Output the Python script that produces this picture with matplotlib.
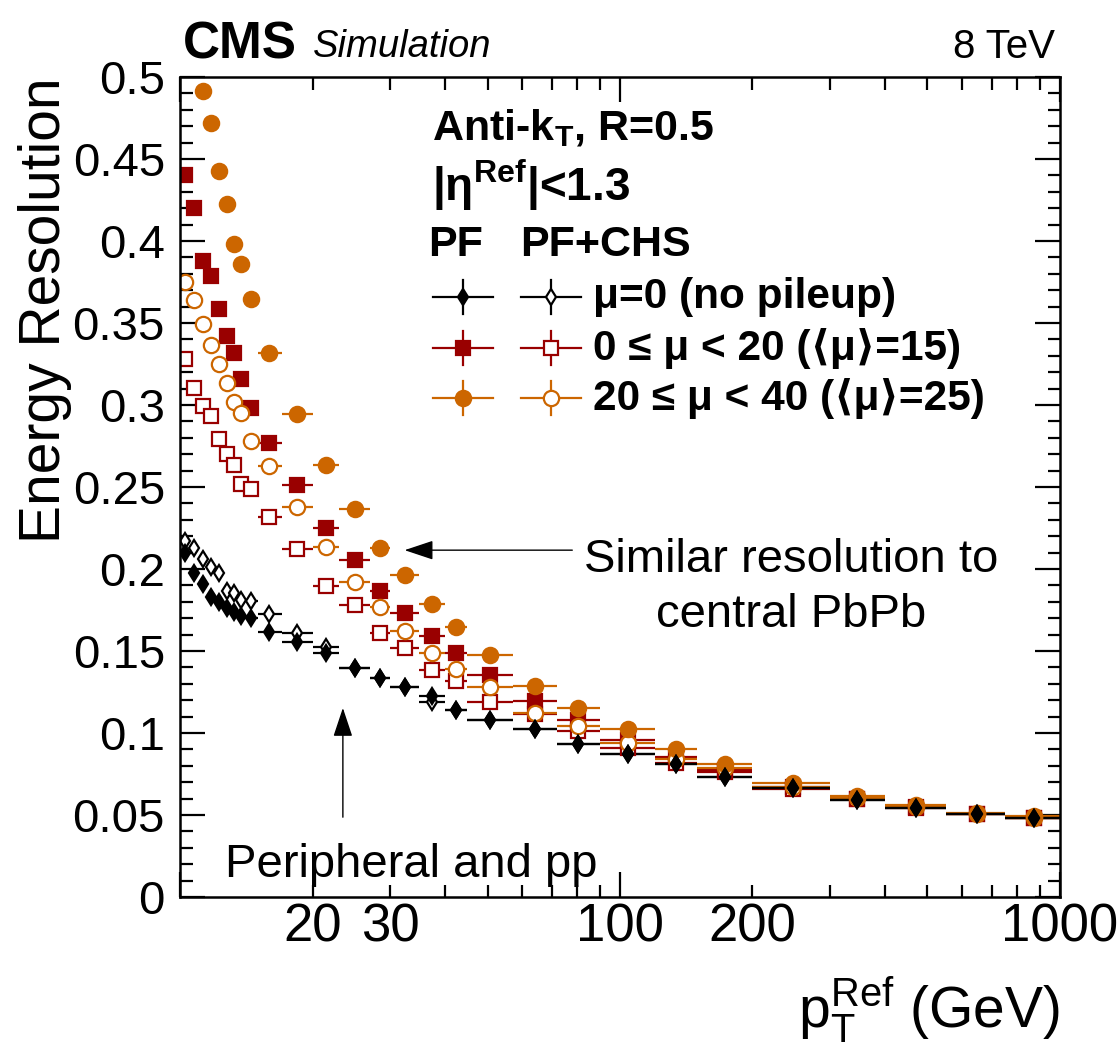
import numpy as np
import matplotlib
matplotlib.use("Agg")
import matplotlib.pyplot as plt
from matplotlib.ticker import FixedLocator, FuncFormatter

plt.rcParams['font.family'] = ['Liberation Sans', 'DejaVu Sans']
plt.rcParams['mathtext.fontset'] = 'custom'
plt.rcParams['mathtext.rm'] = 'Liberation Sans'
plt.rcParams['mathtext.it'] = 'Liberation Sans:italic'
plt.rcParams['mathtext.bf'] = 'Liberation Sans:bold'

# pT bins (GeV): marker position and bin edges
pt = [10.23, 10.76, 11.28, 11.76, 12.27, 12.79, 13.27, 13.76, 14.5, 15.96, 18.42, 21.42,
      24.99, 28.48, 32.37, 37.33, 42.4, 50.6, 64.1, 80.4, 104.1, 133.8, 173.3, 247.3,
      346.7, 472.4, 647.7, 874.9]
edges = [10, 10.5, 11, 11.5, 12, 12.5, 13, 13.5, 14, 15, 17, 20, 23, 27, 30, 35, 40, 45,
         57, 72, 90, 120, 150, 200, 300, 400, 550, 750, 1000]

# PF, mu=0
pf_mu0 = [0.2099, 0.1974, 0.1909, 0.1831, 0.1801, 0.1762, 0.1737, 0.1713, 0.1700, 0.1614,
          0.1557, 0.1490, 0.1398, 0.1337, 0.1282, 0.1226, 0.1140, 0.1082, 0.1027, 0.0932,
          0.0870, 0.0812, 0.0729, 0.0662, 0.0590, 0.0545, 0.0507, 0.0483]
# PF+CHS, mu=0
chs_mu0 = [0.2173, 0.2126, 0.2059, 0.2010, 0.1974, 0.1866, 0.1855, 0.1811, 0.1805, 0.1726,
           0.1608, 0.1526, 0.1398, 0.1337, 0.1282, 0.1191, 0.1140, 0.1082, 0.1027, 0.0932,
           0.0870, 0.0812, 0.0729, 0.0662, 0.0590, 0.0545, 0.0507, 0.0483]
# PF, 0 <= mu < 20
pf_lo = [0.4401, 0.4203, 0.3881, 0.3787, 0.3585, 0.3421, 0.3315, 0.3157, 0.2984, 0.2766,
         0.2512, 0.2252, 0.2058, 0.1866, 0.1734, 0.1593, 0.1486, 0.1354, 0.1195, 0.1082,
         0.0957, 0.0855, 0.0774, 0.0672, 0.0596, 0.0545, 0.0509, 0.0483]
# PF+CHS, 0 <= mu < 20
chs_lo = [0.3279, 0.3102, 0.2994, 0.2933, 0.2793, 0.2701, 0.2634, 0.2516, 0.2486, 0.2319,
          0.2120, 0.1898, 0.1780, 0.1608, 0.1520, 0.1384, 0.1319, 0.1191, 0.1114, 0.1015,
          0.0907, 0.0819, 0.0764, 0.0659, 0.0600, 0.0548, 0.0507, 0.0485]
# PF, 20 <= mu < 40 (first two bins above 0.5)
pf_hi = [np.nan, np.nan, 0.4916, 0.4721, 0.4427, 0.4224, 0.3984, 0.3857, 0.3645, 0.3315,
         0.2945, 0.2637, 0.2366, 0.2131, 0.1963, 0.1787, 0.1648, 0.1476, 0.1288, 0.1151,
         0.1023, 0.0901, 0.0811, 0.0695, 0.0616, 0.0559, 0.0513, 0.0494]
# PF+CHS, 20 <= mu < 40
chs_hi = [0.3748, 0.3638, 0.3494, 0.3366, 0.3248, 0.3132, 0.3018, 0.2949, 0.2779, 0.2630,
          0.2380, 0.2136, 0.1920, 0.1766, 0.1622, 0.1486, 0.1388, 0.1282, 0.1124, 0.1045,
          0.0937, 0.0840, 0.0785, 0.0673, 0.0605, 0.0550, 0.0508, 0.0485]

red = '#990000'
orange = '#cc6600'

x = np.array(pt)
e = np.array(edges)
xerr = [x - e[:-1], e[1:] - x]

fig = plt.figure(figsize=(11.19, 10.46), dpi=100)
ax = fig.add_axes([0.161, 0.1424, 0.786, 0.784])

series = [
    (pf_lo, 's', red, red, 10.5),
    (chs_lo, 's', red, 'white', 10.5),
    (chs_hi, 'o', orange, 'white', 11),
    (pf_hi, 'o', orange, orange, 11),
    (chs_mu0, 'd', 'black', 'white', 8),
    (pf_mu0, 'd', 'black', 'black', 8),
]
for y, m, c, fc, ms in series:
    ax.errorbar(x, y, xerr=xerr, fmt=m, color=c, mfc=fc, mec=c, ms=ms, mew=1.6,
                elinewidth=1.6, capsize=0)

ax.set_xscale('log')
ax.set_xlim(10, 1000)
ax.set_ylim(0, 0.5)

ax.xaxis.set_major_locator(FixedLocator([10, 100, 1000]))
ax.xaxis.set_minor_locator(FixedLocator([20, 30, 40, 50, 60, 70, 80, 90,
                                         200, 300, 400, 500, 600, 700, 800, 900]))
ax.xaxis.set_major_formatter(FuncFormatter(lambda v, p: '' if v < 50 else '%d' % v))
ax.xaxis.set_minor_formatter(FuncFormatter(lambda v, p: '%d' % v if v in (20, 30, 200) else ''))
ax.yaxis.set_major_locator(FixedLocator(np.arange(0, 0.51, 0.05)))
ax.yaxis.set_minor_locator(FixedLocator(np.arange(0, 0.501, 0.01)))
ax.yaxis.set_major_formatter(FuncFormatter(lambda v, p: '%g' % round(v, 2)))

ax.tick_params(which='both', direction='in', top=True, right=True, width=1.6)
ax.tick_params(which='major', length=18)
ax.tick_params(which='minor', length=9)
ax.tick_params(axis='y', which='both', pad=11, labelsize=34)
ax.tick_params(axis='x', which='both', pad=4, labelsize=38)
for s in ax.spines.values():
    s.set_linewidth(1.8)

ax.set_ylabel('Energy Resolution', fontsize=41, loc='top')
ax.yaxis.set_label_coords(-0.1227, 1.0)
ax.set_xlabel(r'p$_{\mathrm{T}}^{\mathrm{Ref}}$ (GeV)', fontsize=41, loc='right', labelpad=16)

fig.text(0.1635, 0.957, 'CMS', fontsize=37, fontweight='bold', va='center')
fig.text(0.2797, 0.955, 'Simulation', fontsize=27.5, style='italic', va='center')
fig.text(0.9428, 0.955, '8 TeV', fontsize=29, ha='right', va='center')

ax.text(0.286, 0.938, r'Anti-k$_{\mathbf{T}}$, R=0.5', fontsize=31, fontweight='bold',
        transform=ax.transAxes, va='center')
ax.text(0.286, 0.868, r'|η$^{\mathbf{Ref}}$|<1.3', fontsize=33, fontweight='bold',
        transform=ax.transAxes, va='center')
ax.text(0.2818, 0.795, 'PF', fontsize=31, fontweight='bold', transform=ax.transAxes, va='center')
ax.text(0.386, 0.795, 'PF+CHS', fontsize=31, fontweight='bold', transform=ax.transAxes, va='center')

# legend rows
rows = [
    (0.7317, 'd', 'black', 8, 'μ=0 (no pileup)'),
    (0.6695, 's', red, 10.5, '0 ≤ μ < 20 (⟨μ⟩=15)'),
    (0.6085, 'o', orange, 11, '20 ≤ μ < 40 (⟨μ⟩=25)'),
]
for yy, m, c, ms, lab in rows:
    for xc, fc in [(0.3216, c), (0.4216, 'white')]:
        ax.plot([xc - 0.034, xc + 0.034], [yy, yy], color=c, lw=1.6, transform=ax.transAxes, clip_on=False)
        ax.plot([xc, xc], [yy - 0.021, yy + 0.021], color=c, lw=1.6, transform=ax.transAxes, clip_on=False)
        ax.plot([xc], [yy], marker=m, color=c, mfc=fc, mec=c, ms=ms, mew=1.6,
                transform=ax.transAxes, clip_on=False)
    ax.text(0.469, yy, lab, fontsize=30.5, fontweight='bold', transform=ax.transAxes, va='center')

ax.text(0.695, 0.411, 'Similar resolution to', fontsize=34, ha='center', va='center',
        transform=ax.transAxes)
ax.text(0.695, 0.344, 'central PbPb', fontsize=34, ha='center', va='center',
        transform=ax.transAxes)
ax.annotate('', xy=(0.252, 0.423), xytext=(0.449, 0.423), xycoords='axes fraction',
            arrowprops=dict(arrowstyle='-|>,head_length=1.8,head_width=0.6', color='black', lw=1.0))
ax.annotate('', xy=(0.185, 0.234), xytext=(0.185, 0.094), xycoords='axes fraction',
            arrowprops=dict(arrowstyle='-|>,head_length=1.8,head_width=0.6', color='black', lw=1.0))
ax.text(0.051, 0.039, 'Peripheral and pp', fontsize=34, va='center', transform=ax.transAxes)

fig.savefig('out.png', dpi=100)
